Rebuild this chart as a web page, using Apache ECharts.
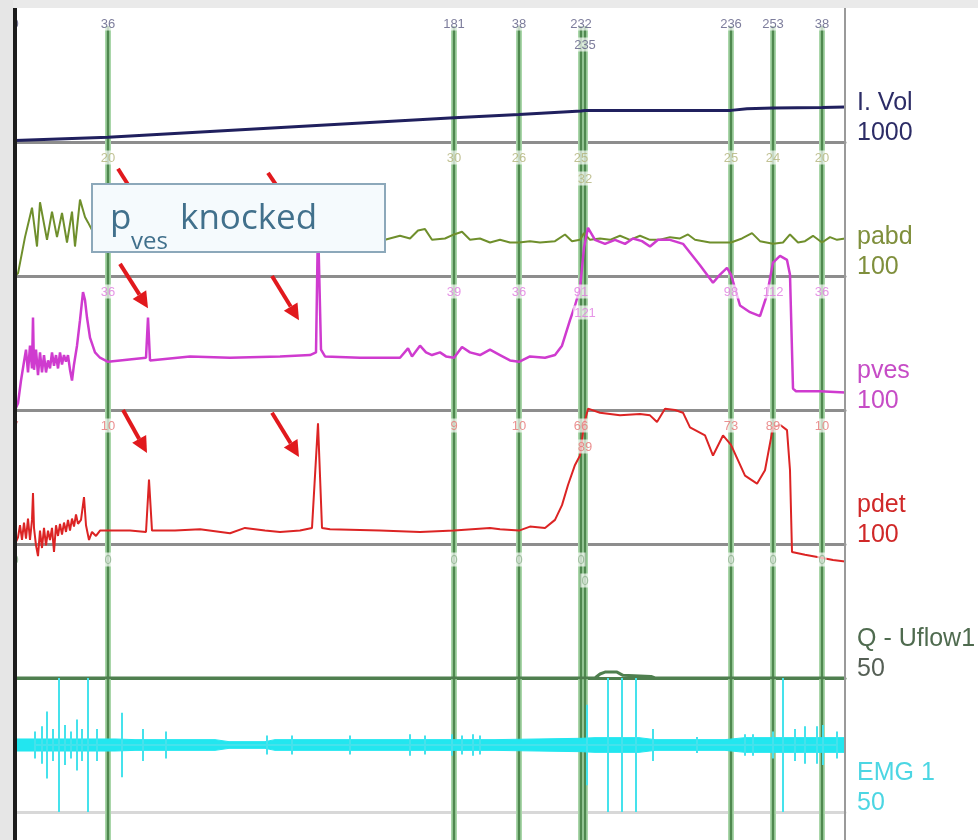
<!DOCTYPE html>
<html><head><meta charset="utf-8">
<script src="https://cdn.jsdelivr.net/npm/echarts@6/dist/echarts.min.js"></script>
<style>html,body{margin:0;padding:0;background:#fff}#c{width:978px;height:840px}</style>
</head><body><div id="c"></div>
<script>
// ---------- DATA (time in s, values in channel units) ----------
const timeMax = 415;
const markerTimes = [46.5, 219.5, 252, 283, 285, 358, 379, 403.5];
const labelTimesRow1 = [0, 46.5, 219.5, 252, 283, 358, 379, 403.5];
const labelTimeRow2 = 285;

const volLabels = ['0', '36', '181', '38', '232', '236', '253', '38'];
const volLabel2 = '235';
const pabdLabels = ['', '20', '30', '26', '25', '25', '24', '20'];
const pabdLabel2 = '32';
const pvesLabels = ['', '36', '39', '36', '91', '98', '112', '36'];
const pvesLabel2 = '121';
const pdetLabels = ['7', '10', '9', '10', '66', '73', '89', '10'];
const pdetLabel2 = '89';
const qLabels = ['0', '0', '0', '0', '0', '0', '0', '0'];
const qLabel2 = '0';

const channelNames = ['I. Vol', 'pabd', 'pves', 'pdet', 'Q - Uflow1', 'EMG 1'];
const channelScales = ['1000', '100', '100', '100', '50', '50'];

const volData = [[0,12],[46.5,36],[219.5,181],[252,205],[283,232],[285,235],[358,236],[366,248],[379,253],[403.5,258],[415,262]];

const pabdData = [[0,0],[1.5,2],[5,29],[8.5,51],[11,22],[12.5,55],[16,27],[18.5,48],[21,29],[23.5,47],[26,25],[28.5,48],[30,22],[32.5,57],[35,44],[36.5,40],
 [40,30],[46.5,26],[60,27],[80,27],[100,27],[120,27],[140,27],[160,27],[185,27],[192.5,30],[197.5,28],[201.5,34],[205,35],[208.5,27],[215,28],[219.5,31],[223.5,33],[227.5,27],[232.5,28],[237.5,25],[242.5,27],[247.5,25],[252,25],[257.5,26],[262.5,25],[270,26],[275,31],[278.5,26],[282.5,27],[284.5,32],[287.5,27],[292.5,28],[297.5,27],[302.5,30],[307.5,27],[312.5,30],[317.5,27],[322.5,27],[327.5,29],[332.5,28],[336.5,31],[340,27],[347.5,25],[358,25],[363.5,28],[368.5,32],[372.5,26],[379,24],[384,25],[387.5,31],[391.5,25],[395,26],[399,30],[403.5,25],[407.5,29],[411,27],[415,28]];

const pvesData = [[0,0],[1.5,5],[3,22],[4.5,36],[5.5,45],[6.5,28],[7.5,48],[8.5,31],[9,69],[9.5,30],[10.5,45],[11.5,26],[12.5,43],[13.5,28],[14.5,41],[15.5,28],[16.5,37],[17.5,31],[18.5,43],[19.5,33],[20.5,41],[21.5,31],[22.5,43],[23.5,34],[24.5,41],[25.5,36],[26.5,41],[27.5,30],[28.5,22],[29.5,34],[31,48],[32.5,67],[34,88],[35,82],[36,69],[37.5,54],[40,43],[42.5,39],[46.5,36],[52.5,37],[65.5,39],[66.5,69],[67.5,37],[87.5,40],[107.5,39],[132.5,40],[147.5,41],[150.5,43],[151.5,140],[153,45],[155,40],[172.5,39],[192.5,39],[196.5,46],[198.5,40],[202.5,48],[205.5,43],[208.5,41],[212.5,43],[215.5,40],[219.5,39],[223.5,47],[227.5,43],[232.5,41],[237.5,45],[242.5,41],[247.5,37],[252,36],[257.5,40],[265,39],[270,41],[273.5,48],[277.5,67],[280,78],[282.5,91],[284.5,121],[286.5,136],[290,127],[295,124],[300,127],[305,124],[309,128],[313.5,126],[317.5,122],[321.5,127],[327.5,127],[334,124],[342.5,108],[349,95],[352.5,101],[356,106],[358,101],[362.5,78],[367.5,73],[372.5,70],[376,86],[379,110],[382.5,115],[386,112],[387.5,101],[389,16],[390.5,14],[402.5,14],[415,13]];

const pdetData = [[0,0],[1.5,5],[2.5,14],[3.5,3],[4.5,16],[5.5,4],[6.5,19],[7.5,3],[8.5,18],[9,38],[9.5,12],[10.5,-1],[11.5,-9],[12.5,10],[13.5,-3],[14.5,12],[15.5,-1],[16.5,10],[17.5,3],[18.5,12],[19.5,-6],[20.5,14],[21.5,6],[22.5,15],[23.5,7],[24.5,16],[25.5,9],[26.5,18],[27.5,10],[28.5,19],[29.5,13],[30.5,22],[31.5,15],[33,18],[34.5,35],[35.5,14],[37,3],[38.5,9],[40.5,6],[42.5,10],[46.5,10],[57.5,10],[65.5,9],[67,48],[68.5,10],[80,10],[92.5,11],[107.5,8],[115,12],[125,10],[132.5,9],[142.5,10],[148.5,12],[151.5,90],[153.5,12],[157.5,11],[182.5,10],[202.5,9],[219.5,10],[237.5,12],[242.5,11],[252,10],[257.5,13],[265,12],[270,18],[273.5,29],[276.5,44],[280,59],[282.5,66],[284.5,89],[286.5,101],[292.5,98],[302.5,96],[312.5,97],[317.5,96],[321,91],[325,101],[330,100],[334,98],[337.5,87],[345,81],[349,66],[354,81],[358,74],[365,51],[371,45],[375,55],[379,87],[382.5,89],[386,85],[387.5,55],[388.5,-6],[395,-8],[402.5,-10],[409,-12],[415,-13]];

const qData = [[0,0],[290,0],[292.5,1.5],[295,2.2],[301,2.2],[304,1],[318,0.6],[320,0],[415,0]];

// EMG: spikes [time, amplitude] and baseline band half-width
const emgSpikes = [[10,10],[13.5,14],[16,25],[19,12],[22,50],[25,15],[28,10],[31,19],[33.5,12],[36.5,50],[41,12],[53.5,24],[64,12],[75.5,10],[126,7],[138.5,7],[167.5,7],[197.5,8],[205,7],[218.5,8],[223.5,7],[229,8],[232.5,7],[286,30],[296.5,50],[303.5,50],[310.5,50],[319,12],[341,6],[365,8],[369,8],[379,10],[384,50],[390,12],[395,14],[401,14],[404,15],[411,10]];
const emgBandT = [0, 50, 60, 100, 107, 125, 130, 200, 240, 283, 290, 312, 320, 355, 365, 415];
const emgBandH = [4.5, 4.5, 4, 4, 2.5, 2.5, 4, 4, 4, 5, 5.5, 5.5, 4, 4, 5.5, 5.5];

// annotation arrows: [gridIndex, [t,v] from, [t,v] to]
const arrows = [
  [1, [51.5, 80], [65.5, 47]], [1, [126.5, 77], [140.5, 46]],
  [2, [52.5, 109], [66.5, 76]], [2, [128.5, 100], [142, 67]],
  [3, [54, 100], [66, 68]], [3, [128.5, 98], [142, 65]]
];

// ---------- LAYOUT ----------
const L = 15, W = 830, PH = 134;
const panelTops = [8, 142, 276, 410, 544, 678];
const yRanges = [[0,1000],[0,100],[0,100],[0,100],[0,50],[-50,50]];
const sepColors = ['#8d8d8d','#8d8d8d','#8d8d8d','#8d8d8d','#4f7f4f','#d8d8d8'];
const FONT = 'Liberation Sans, Arial, sans-serif';

const chart = echarts.init(document.getElementById('c'), null, {renderer: 'canvas'});

const grids = panelTops.map(t => ({left: L, width: W, top: t, height: PH}));
grids.push({left: L, width: W, top: 26, height: 830}); // marker overlay

const xAxes = grids.map((g, i) => ({
  gridIndex: i, type: 'value', min: 0, max: timeMax,
  axisLine: {show: i < 6, onZero: false, lineStyle: {color: sepColors[i] || '#000', width: 3}},
  axisTick: {show: false}, axisLabel: {show: false}, splitLine: {show: false}
}));
const yAxes = grids.map((g, i) => ({
  gridIndex: i, type: 'value', min: i < 6 ? yRanges[i][0] : 0, max: i < 6 ? yRanges[i][1] : 1, show: false
}));

const markerData = [];
markerTimes.forEach(t => { markerData.push([t, 0], [t, 1], [t, '-']); });

const emgSpikeData = [];
emgSpikes.forEach(([t, a]) => { emgSpikeData.push([t, 0], [t, a], [t, -a], [t, 0]); });

function trace(gi, data, color, width, extra) {
  return Object.assign({type: 'line', xAxisIndex: gi, yAxisIndex: gi, data, symbol: 'none', silent: true,
    animation: false, z: 3, lineStyle: {color, width}}, extra || {});
}

function labelSeries(gi, times, texts, color, dist) {
  const ymax = yRanges[gi][1];
  const data = [];
  times.forEach((t, i) => { if (texts[i] !== '') data.push({value: [t, ymax], name: texts[i]}); });
  return {type: 'scatter', xAxisIndex: gi, yAxisIndex: gi, symbolSize: 1, z: 6, silent: true, animation: false,
    data, itemStyle: {color: 'rgba(255,255,255,0)'},
    label: {show: true, position: 'bottom', distance: dist, color, fontSize: 13, fontFamily: FONT,
      backgroundColor: 'rgba(255,255,255,0.85)', padding: [1, 1, 0, 1], formatter: p => p.name}};
}

const labelColors = ['#5b5b82', '#b3b37a', '#e07ae0', '#e67676', '#8db08d'];
const row1 = [volLabels, pabdLabels, pvesLabels, pdetLabels, qLabels];
const row2 = [volLabel2, pabdLabel2, pvesLabel2, pdetLabel2, qLabel2];

const series = [
  trace(6, markerData, '#a9d6a9', 6, {z: 1}),
  trace(6, markerData, '#4f884f', 2.5, {z: 1}),
  trace(0, volData, '#20205e', 3),
  trace(1, pabdData, '#6f8f2c', 2),
  trace(2, pvesData, '#cf3bcf', 2.5, {clip: false}),
  trace(3, pdetData, '#dc2424', 2, {clip: false}),
  trace(4, qData, '#4f7f4f', 3),
  trace(5, emgBandT.map((t, i) => [t, emgBandH[i]]), '#22e6ef', 1, {areaStyle: {color: '#22e6ef', opacity: 1, origin: 0}}),
  trace(5, emgBandT.map((t, i) => [t, -emgBandH[i]]), '#22e6ef', 1, {areaStyle: {color: '#22e6ef', opacity: 1, origin: 0}}),
  trace(5, emgSpikeData, '#45e2ec', 2)
];
for (let i = 0; i < 5; i++) {
  series.push(labelSeries(i, labelTimesRow1, row1[i], labelColors[i], 8));
  series.push(labelSeries(i, [labelTimeRow2], [row2[i]], labelColors[i], 29));
}

chart.setOption({
  animation: false,
  backgroundColor: '#ffffff',
  grid: grids, xAxis: xAxes, yAxis: yAxes, series
});

// ---------- ANNOTATIONS / FRAME ----------
const g = [];
g.push({type: 'rect', shape: {x: 0, y: 0, width: 978, height: 8}, style: {fill: '#eaeaea'}, z: 60});
g.push({type: 'rect', shape: {x: 0, y: 0, width: 13, height: 840}, style: {fill: '#e6e6e6'}, z: 60});
g.push({type: 'line', shape: {x1: 15, y1: 8, x2: 15, y2: 840}, style: {stroke: '#1c1c1c', lineWidth: 4}, z: 61});
g.push({type: 'line', shape: {x1: L + W, y1: 8, x2: L + W, y2: 840}, style: {stroke: '#9a9a9a', lineWidth: 2}, z: 61});

const nameColors = ['#2c2c66', '#7f8f3c', '#c64cc6', '#d02828', '#4f6b4f', '#4cd6e3'];
const scaleColors = ['#2c2c66', '#7f8f3c', '#c64cc6', '#d02828', '#555f55', '#4cd6e3'];
panelTops.forEach((t, i) => {
  const b = t + PH;
  g.push({type: 'text', x: 857, y: b - 39, style: {text: channelNames[i], fill: nameColors[i], font: '25px ' + FONT, verticalAlign: 'middle', align: 'left'}, z: 62});
  g.push({type: 'text', x: 857, y: b - 9, style: {text: channelScales[i], fill: scaleColors[i], font: '25px ' + FONT, verticalAlign: 'middle', align: 'left'}, z: 62});
});

arrows.forEach(([gi, from, to]) => {
  const p1 = chart.convertToPixel({gridIndex: gi}, from);
  const p2 = chart.convertToPixel({gridIndex: gi}, to);
  const dx = p2[0] - p1[0], dy = p2[1] - p1[1], len = Math.hypot(dx, dy);
  const ux = dx / len, uy = dy / len, hl = 16, hw = 8;
  const bx = p2[0] - ux * hl, by = p2[1] - uy * hl;
  g.push({type: 'line', shape: {x1: p1[0], y1: p1[1], x2: bx, y2: by}, style: {stroke: '#e1191d', lineWidth: 4}, z: 50});
  g.push({type: 'polygon', shape: {points: [[p2[0], p2[1]], [bx - uy * hw, by + ux * hw], [bx + uy * hw, by - ux * hw]]}, style: {fill: '#e1191d'}, z: 50});
});

g.push({type: 'rect', shape: {x: 92, y: 184, width: 293, height: 68}, style: {fill: '#f5fafd', stroke: '#8ca8ba', lineWidth: 2}, z: 100});
g.push({type: 'text', x: 110, y: 219, style: {text: 'p', fill: '#41708c', font: '35px Open Sans', verticalAlign: 'middle'}, z: 101});
g.push({type: 'text', x: 131, y: 242, style: {text: 'ves', fill: '#41708c', font: '24px Open Sans', verticalAlign: 'middle'}, z: 101});
g.push({type: 'text', x: 180, y: 219, style: {text: 'knocked', fill: '#41708c', font: '35px Open Sans', verticalAlign: 'middle'}, z: 101});

chart.setOption({graphic: {elements: g}});
</script></body></html>
